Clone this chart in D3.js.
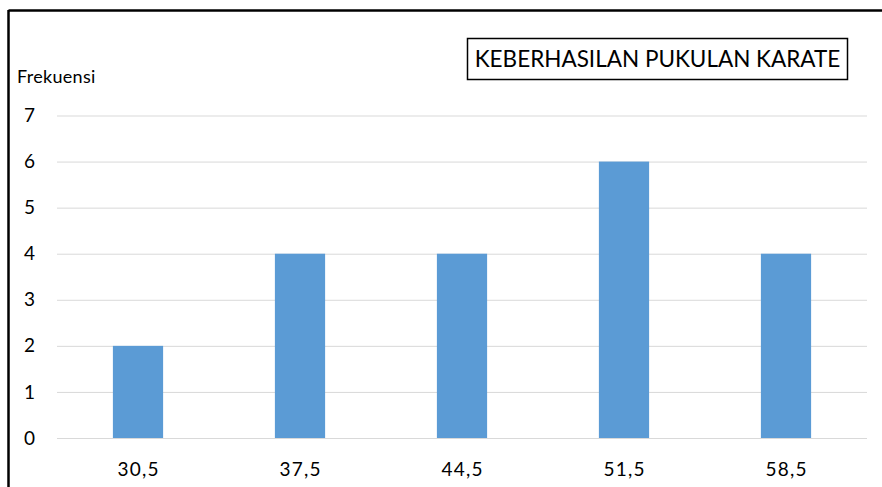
<!DOCTYPE html>
<html><head><meta charset="utf-8">
<script src="https://cdn.jsdelivr.net/npm/d3@7"></script>
<style>body{margin:0;background:#fff}svg{display:block}</style>
</head><body>
<svg id="c" width="882" height="487"></svg>
<script>
const categories = ["30,5","37,5","44,5","51,5","58,5"];
const values = [2,4,4,6,4];
const yTicks = [0,1,2,3,4,5,6,7];
const titleText = "KEBERHASILAN PUKULAN KARATE";
const yLabel = "Frekuensi";

(function(){
const svg = d3.select("#c");
const font = "Lato, 'Open Sans', sans-serif";
const pLeft = 57, pRight = 867, pTop = 115.5, pBottom = 438;

const x = d3.scaleBand().domain(categories).range([pLeft, pRight]).paddingInner(0.69).paddingOuter(0.345);
const y = d3.scaleLinear().domain([0,7]).range([pBottom, pTop]);

// outer border (top & left)
svg.append("line").attr("x1",8.5).attr("x2",882).attr("y1",10.5).attr("y2",10.5).attr("stroke","#000").attr("stroke-width",2.5);
svg.append("line").attr("x1",8.5).attr("x2",8.5).attr("y1",10).attr("y2",487).attr("stroke","#000").attr("stroke-width",2.5);

// gridlines
const yAxis = d3.axisLeft(y).tickValues(yTicks).tickSize(-(pRight-pLeft)).tickFormat(d3.format("d"));
const gy = svg.append("g").attr("transform",`translate(${pLeft},0)`).call(yAxis);
gy.select(".domain").remove();
gy.selectAll(".tick line").attr("stroke","#d9d9d9").attr("stroke-width",1);
gy.selectAll(".tick text").attr("x",-22).attr("font-family",font).attr("font-size",19).attr("fill","#000");

// bars
svg.append("g").selectAll("rect").data(values).join("rect")
  .attr("x",(d,i)=>x(categories[i]))
  .attr("y",d=>y(d))
  .attr("width",x.bandwidth())
  .attr("height",d=>y(0)-y(d))
  .attr("fill","#5b9bd5");

// x axis
const xAxis = d3.axisBottom(x).tickSize(0).tickPadding(25);
const gx = svg.append("g").attr("transform",`translate(0.6,${pBottom})`).call(xAxis);
gx.select(".domain").remove();
gx.selectAll(".tick text").attr("font-family",font).attr("font-size",19).attr("letter-spacing",1.2).attr("fill","#000");

// y label
svg.append("text").attr("x",17).attr("y",82.5).attr("font-family",font).attr("font-size",18).attr("letter-spacing",0.3).attr("fill","#000").text(yLabel);

// title box
svg.append("rect").attr("x",467.5).attr("y",38.5).attr("width",380).attr("height",41).attr("fill","#fff").attr("stroke","#000").attr("stroke-width",1.5);
svg.append("text").attr("x",657.5).attr("y",67).attr("text-anchor","middle").attr("font-family",font).attr("font-size",22.5).attr("fill","#000").text(titleText);
})();
</script>
</body></html>
